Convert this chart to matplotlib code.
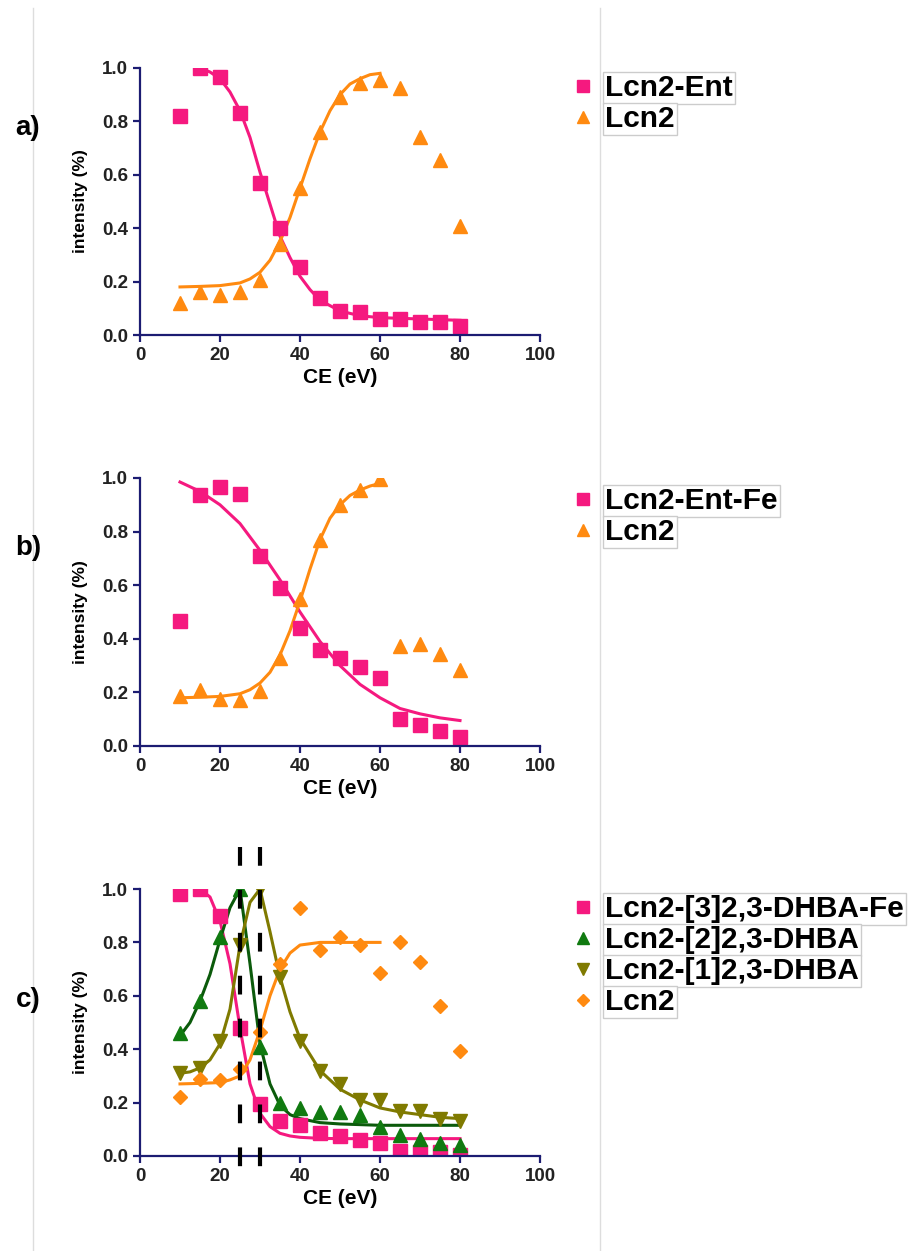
import matplotlib.pyplot as plt
from matplotlib.lines import Line2D
import numpy as np

plt.rcParams['font.family'] = ['Liberation Sans', 'DejaVu Sans']
plt.rcParams['font.weight'] = 'bold'

ce = [10, 15, 20, 25, 30, 35, 40, 45, 50, 55, 60, 65, 70, 75, 80]

# panel a
a_ent = [0.82, 1.0, 0.965, 0.83, 0.57, 0.40, 0.255, 0.14, 0.09, 0.085, 0.06, 0.06, 0.05, 0.05, 0.035]
a_lcn2 = [0.12, 0.16, 0.15, 0.16, 0.205, 0.34, 0.55, 0.76, 0.89, 0.945, 0.955, 0.925, 0.74, 0.655, 0.41]
a_ent_fit_x = [15, 17.5, 20, 22.5, 25, 27.5, 30, 32.5, 35, 37.5, 40, 42.5, 45, 50, 55, 60, 70, 80]
a_ent_fit_y = [1.0, 0.985, 0.96, 0.91, 0.84, 0.74, 0.61, 0.49, 0.37, 0.29, 0.22, 0.17, 0.13, 0.09, 0.072, 0.065, 0.06, 0.055]
a_lcn2_fit_x = [10, 15, 20, 25, 27.5, 30, 32.5, 35, 37.5, 40, 42.5, 45, 47.5, 50, 52.5, 55, 57.5, 60]
a_lcn2_fit_y = [0.18, 0.182, 0.185, 0.195, 0.21, 0.235, 0.28, 0.35, 0.44, 0.55, 0.66, 0.76, 0.84, 0.90, 0.94, 0.96, 0.975, 0.98]

# panel b
b_ent_fe = [0.465, 0.935, 0.965, 0.94, 0.71, 0.59, 0.44, 0.36, 0.33, 0.295, 0.255, 0.10, 0.08, 0.055, 0.035]
b_lcn2 = [0.185, 0.21, 0.175, 0.17, 0.205, 0.33, 0.55, 0.77, 0.90, 0.955, 0.995, 0.375, 0.38, 0.345, 0.285]
b_ent_fit_x = [10, 15, 20, 25, 30, 35, 40, 45, 50, 55, 60, 65, 70, 75, 80]
b_ent_fit_y = [0.985, 0.95, 0.90, 0.83, 0.73, 0.62, 0.50, 0.39, 0.30, 0.23, 0.18, 0.14, 0.12, 0.105, 0.095]
b_lcn2_fit_x = [10, 15, 20, 25, 27.5, 30, 32.5, 35, 37.5, 40, 42.5, 45, 47.5, 50, 52.5, 55, 57.5, 60]
b_lcn2_fit_y = [0.18, 0.182, 0.185, 0.195, 0.21, 0.235, 0.275, 0.34, 0.43, 0.54, 0.66, 0.77, 0.85, 0.90, 0.935, 0.955, 0.97, 0.98]

# panel c
c_dhba3_fe = [0.98, 1.0, 0.90, 0.48, 0.195, 0.13, 0.115, 0.085, 0.075, 0.06, 0.05, 0.02, 0.015, 0.015, 0.005]
c_dhba2 = [0.46, 0.58, 0.82, 1.0, 0.41, 0.20, 0.18, 0.165, 0.165, 0.155, 0.11, 0.08, 0.065, 0.05, 0.04]
c_dhba1 = [0.31, 0.33, 0.43, 0.79, 1.0, 0.67, 0.43, 0.32, 0.27, 0.21, 0.21, 0.17, 0.17, 0.14, 0.13]
c_lcn2 = [0.22, 0.29, 0.285, 0.325, 0.465, 0.72, 0.93, 0.77, 0.82, 0.79, 0.685, 0.80, 0.725, 0.56, 0.395]
c_fe_fit_x = [15, 17.5, 20, 22.5, 25, 27.5, 30, 32.5, 35, 37.5, 40, 45, 50, 60, 70, 80]
c_fe_fit_y = [1.0, 0.97, 0.88, 0.72, 0.48, 0.27, 0.16, 0.11, 0.085, 0.075, 0.07, 0.066, 0.065, 0.065, 0.065, 0.065]
c_d2_fit_x = [10, 12.5, 15, 17.5, 20, 22.5, 25, 27.5, 30, 32.5, 35, 37.5, 40, 45, 50, 60, 70, 80]
c_d2_fit_y = [0.45, 0.50, 0.58, 0.68, 0.81, 0.93, 1.0, 0.72, 0.42, 0.27, 0.19, 0.155, 0.14, 0.125, 0.12, 0.115, 0.115, 0.115]
c_d1_fit_x = [10, 12.5, 15, 17.5, 20, 22.5, 25, 27.5, 30, 32.5, 35, 37.5, 40, 45, 50, 55, 60, 65, 70, 75, 80]
c_d1_fit_y = [0.31, 0.315, 0.33, 0.36, 0.42, 0.55, 0.79, 0.95, 1.0, 0.84, 0.67, 0.54, 0.44, 0.32, 0.25, 0.21, 0.18, 0.165, 0.155, 0.145, 0.14]
c_lcn2_fit_x = [10, 15, 20, 22.5, 25, 27.5, 30, 32.5, 35, 37.5, 40, 45, 50, 60]
c_lcn2_fit_y = [0.27, 0.272, 0.275, 0.285, 0.30, 0.36, 0.47, 0.60, 0.70, 0.76, 0.79, 0.80, 0.80, 0.80]
c_dashes = [25, 30]

pink = '#F5197F'
orange = '#FF8A10'
green = '#107A10'
dkgreen = '#0B5A0B'
olive = '#7F7A00'
navy = '#1C1C72'

W, H = 913, 1251
fig = plt.figure(figsize=(W / 100, H / 100), dpi=100)

# faint page borders, behind everything
fig.add_artist(Line2D([33 / W, 33 / W], [0, 1 - 8 / H], color='#dddddd', lw=1, zorder=-5))
fig.add_artist(Line2D([600 / W, 600 / W], [0, 1 - 8 / H], color='#dddddd', lw=1, zorder=-5))


def make_ax(top_px, bot_px):
    ax = fig.add_axes([140 / W, 1 - bot_px / H, 400 / W, (bot_px - top_px) / H])
    ax.set_xlim(0, 100)
    ax.set_ylim(0, 1.0)
    ax.set_xticks([0, 20, 40, 60, 80, 100])
    ax.set_yticks([0, 0.2, 0.4, 0.6, 0.8, 1.0])
    ax.set_yticklabels(['0.0', '0.2', '0.4', '0.6', '0.8', '1.0'])
    for s in ['top', 'right']:
        ax.spines[s].set_visible(False)
    for s in ['left', 'bottom']:
        ax.spines[s].set_color(navy)
        ax.spines[s].set_linewidth(1.6)
    ax.tick_params(colors=navy, width=1.6, length=5, labelsize=13.5, labelcolor='#222222')
    for lab in ax.get_xticklabels() + ax.get_yticklabels():
        lab.set_fontweight('bold')
    ax.set_xlabel('CE (eV)', fontsize=15, fontweight='bold')
    ax.set_ylabel('intensity (%)', fontsize=12.5, fontweight='bold')
    ax.xaxis.set_label_coords(0.5, -0.125)
    ax.yaxis.set_label_coords(-0.13, 0.5)
    return ax


def add_legend(ax, handles, labels, y_px):
    leg = ax.legend(handles, labels, loc='upper left', bbox_to_anchor=(568 / W, 1 - y_px / H),
                    bbox_transform=fig.transFigure, frameon=False, fontsize=21.5,
                    handlelength=1.0, handletextpad=0.25, labelspacing=0.1, borderpad=0,
                    borderaxespad=0, markerscale=0.85)
    for t in leg.get_texts():
        t.set_fontweight('bold')
        t.set_bbox(dict(facecolor='white', edgecolor='#cccccc', linewidth=1, pad=1.5))
    return leg


ms = 9.5

# a
ax = make_ax(68, 335)
ax.plot(a_ent_fit_x, a_ent_fit_y, color=pink, lw=2.2)
ax.plot(a_lcn2_fit_x, a_lcn2_fit_y, color=orange, lw=2.2)
h1, = ax.plot(ce, a_ent, 's', color=pink, ms=ms, ls='none')
h2, = ax.plot(ce, a_lcn2, '^', color=orange, ms=ms, ls='none')
add_legend(ax, [h1, h2], ['Lcn2-Ent', 'Lcn2'], 74)

# b
ax = make_ax(478, 746)
ax.plot(b_ent_fit_x, b_ent_fit_y, color=pink, lw=2.2)
ax.plot(b_lcn2_fit_x, b_lcn2_fit_y, color=orange, lw=2.2)
h1, = ax.plot(ce, b_ent_fe, 's', color=pink, ms=ms, ls='none')
h2, = ax.plot(ce, b_lcn2, '^', color=orange, ms=ms, ls='none')
add_legend(ax, [h1, h2], ['Lcn2-Ent-Fe', 'Lcn2'], 487)

# c
ax = make_ax(889, 1156)
ax.plot(c_fe_fit_x, c_fe_fit_y, color=pink, lw=2.2)
ax.plot(c_d2_fit_x, c_d2_fit_y, color=dkgreen, lw=2.2)
ax.plot(c_d1_fit_x, c_d1_fit_y, color=olive, lw=2.2)
ax.plot(c_lcn2_fit_x, c_lcn2_fit_y, color=orange, lw=2.2)
h1, = ax.plot(ce, c_dhba3_fe, 's', color=pink, ms=ms, ls='none')
h2, = ax.plot(ce, c_dhba2, '^', color=green, ms=ms, ls='none')
h3, = ax.plot(ce, c_dhba1, 'v', color=olive, ms=ms, ls='none')
h4, = ax.plot(ce, c_lcn2, 'D', color=orange, ms=ms * 0.8, ls='none')
for xd in c_dashes:
    ax.plot([xd, xd], [1.157, -0.072], color='black', lw=3, ls=(0, (4.5, 5.8)), clip_on=False, zorder=5)
add_legend(ax, [h1, h2, h3, h4],
           ['Lcn2-[3]2,3-DHBA-Fe', 'Lcn2-[2]2,3-DHBA', 'Lcn2-[1]2,3-DHBA', 'Lcn2'], 895)

# panel letters
for lab, y in [('a)', 128), ('b)', 548), ('c)', 1000)]:
    fig.text(28 / W, 1 - y / H, lab, fontsize=20, fontweight='bold', ha='center', va='center')

fig.savefig('out.png', dpi=100)
